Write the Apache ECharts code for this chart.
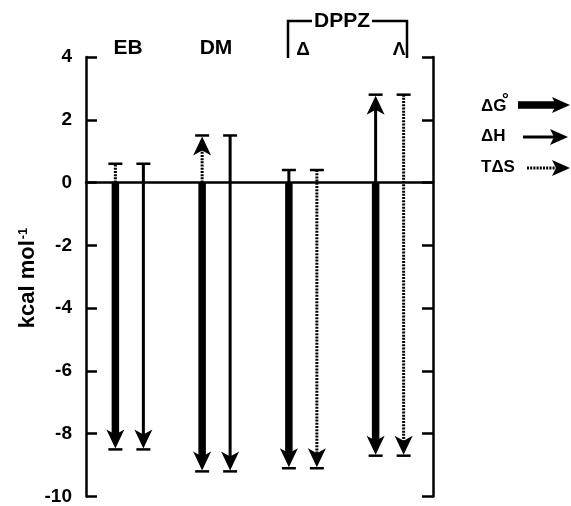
<!DOCTYPE html>
<html>
<head>
<meta charset="utf-8">
<script src="https://cdn.jsdelivr.net/npm/echarts@6/dist/echarts.min.js"></script>
<style>
html,body{margin:0;padding:0;background:#fff;}
#chart{width:571px;height:506px;}
</style>
</head>
<body>
<div id="chart"></div>
<script>
// ---- data (kcal/mol) ----
const categories = ['EB', 'DM', 'DPPZ Δ', 'DPPZ Λ'];
const dG  = [-8.5, -9.2, -9.1, -8.7];    // ΔG°
const dH  = [-9.1, -10.7, 0.4, 2.8];     // ΔH
const TdS = [-0.6, -1.5, 9.5, 11.5];     // TΔS  (ΔG = ΔH − TΔS)
const yTicks = [-10, -8, -6, -4, -2, 0, 2, 4];

const FONT = '"Liberation Sans", Arial, sans-serif';
const chart = echarts.init(document.getElementById('chart'), null, {renderer: 'canvas'});

const HEAD_W = 18, HEAD_H = 19, NOTCH = 5;
const THICK = 7.5, THIN = 3, DASH = [2, 1.2];
const CAP = 14;

function headPts(x, tip, dir, w, h, n) {
  return [[x, tip], [x - w / 2, tip - dir * h], [x, tip - dir * (h - n)], [x + w / 2, tip - dir * h]];
}
function lineStyleFor(kind) {
  if (kind === 'thick') return {stroke: '#000', lineWidth: THICK, fill: null};
  if (kind === 'thin') return {stroke: '#000', lineWidth: THIN, fill: null};
  return {stroke: '#000', lineWidth: THIN, lineDash: DASH, fill: null};
}
function seg(x, y1, y2, kind) {
  return {type: 'line', shape: {x1: x, y1: y1, x2: x, y2: y2}, style: lineStyleFor(kind)};
}
function cap(x, y) {
  return {type: 'line', shape: {x1: x - CAP / 2, y1: y, x2: x + CAP / 2, y2: y}, style: {stroke: '#000', lineWidth: 2.5}};
}
function arrowHead(x, tip, dir) {
  return {type: 'polygon', shape: {points: headPts(x, tip, dir, HEAD_W, HEAD_H, NOTCH)}, style: {fill: '#000'}};
}

function renderItem(params, api) {
  const i = api.value(0);
  const g = api.value(1), h = api.value(2), ts = api.value(3);
  const mTS = -ts;
  let first, firstKind, secondKind;
  if (mTS >= 0) { first = mTS; firstKind = 'dotted'; secondKind = 'thin'; }
  else { first = h; firstKind = 'thin'; secondKind = 'dotted'; }
  const c0 = api.coord([i, 0]);
  const xc = c0[0], y0 = c0[1];
  const yG = api.coord([i, g])[1];
  const y1 = api.coord([i, first])[1];
  const xa = xc - 14, xb = xc + 14;
  const kids = [];
  const upLen = y0 - y1;
  if (upLen > 28) {
    kids.push(seg(xa, y0, y1 + HEAD_H - NOTCH, firstKind));
    kids.push(arrowHead(xa, y1 + 1, -1));
  } else {
    kids.push(seg(xa, y0, y1, firstKind));
  }
  kids.push(cap(xa, y1));
  kids.push(seg(xa, y0, yG - HEAD_H + NOTCH + 1, 'thick'));
  kids.push(arrowHead(xa, yG - 1, 1));
  kids.push(cap(xa, yG));
  kids.push(seg(xb, y1, yG - HEAD_H + NOTCH + 1, secondKind));
  kids.push(cap(xb, y1));
  kids.push(arrowHead(xb, yG - 1, 1));
  kids.push(cap(xb, yG));
  return {type: 'group', children: kids};
}

const seriesData = categories.map((c, i) => [i, dG[i], dH[i], TdS[i]]);

const axisCommon = {
  type: 'value', min: yTicks[0], max: yTicks[yTicks.length - 1], interval: 2,
  axisLine: {show: true, lineStyle: {color: '#000', width: 2.5}},
  axisTick: {show: true, inside: true, length: 11, lineStyle: {color: '#000', width: 2.5}},
  splitLine: {show: false}
};

function legendArrow(x1, x2, y, kind) {
  const tip = x2, back = x2 - 18;
  const st = lineStyleFor(kind);
  return [
    {type: 'line', shape: {x1: x1, y1: y, x2: back + 4, y2: y}, style: st},
    {type: 'polygon', shape: {points: [[tip, y], [back, y - 8], [back + 4, y], [back, y + 8]]}, style: {fill: '#000'}}
  ];
}

const boldText = (txt, x, y, size, align) => ({
  type: 'text', x: x, y: y,
  style: {text: txt, fill: '#000', font: 'bold ' + size + 'px ' + FONT, textAlign: align || 'center', textVerticalAlign: 'middle'}
});

chart.setOption({
  animation: false,
  backgroundColor: '#fff',
  grid: {left: 86, right: 138, top: 57, bottom: 4, containLabel: false},
  xAxis: {
    type: 'category', data: categories, boundaryGap: true,
    axisLine: {show: true, onZero: true, lineStyle: {color: '#000', width: 2.5}},
    axisTick: {show: false}, axisLabel: {show: false}, splitLine: {show: false}
  },
  yAxis: [
    Object.assign({}, axisCommon, {
      position: 'left',
      axisLabel: {show: true, margin: 14, color: '#000', fontWeight: 'bold', fontSize: 19, fontFamily: FONT}
    }),
    Object.assign({}, axisCommon, {position: 'right', axisLabel: {show: false}})
  ],
  series: [{
    type: 'custom', renderItem: renderItem, data: seriesData,
    xAxisIndex: 0, yAxisIndex: 0, clip: false, z: 5
  }],
  graphic: [
    {
      type: 'text', x: 28, y: 278, rotation: Math.PI / 2,
      style: {
        text: '{a|kcal mol}{s|-1}', textAlign: 'center', textVerticalAlign: 'middle',
        rich: {
          a: {fontSize: 22, fontWeight: 'bold', fontFamily: FONT, fill: '#000', color: '#000'},
          s: {fontSize: 13, fontWeight: 'bold', fontFamily: FONT, fill: '#000', color: '#000', verticalAlign: 'top', padding: [0, 0, 10, 1]}
        }
      }
    },
    boldText('EB', 128, 48, 21),
    boldText('DM', 216, 48, 21),
    boldText('DPPZ', 342, 21, 21),
    {type: 'polyline', shape: {points: [[288, 58], [288, 21], [312, 21]]}, style: {stroke: '#000', lineWidth: 2.5, fill: null}},
    {type: 'polyline', shape: {points: [[372, 21], [407, 21], [407, 58]]}, style: {stroke: '#000', lineWidth: 2.5, fill: null}},
    boldText('Δ', 303, 50, 19),
    boldText('Λ', 399, 50, 19),
    boldText('ΔG', 481, 106, 17, 'left'),
    boldText('°', 502, 100, 17, 'left'),
    boldText('ΔH', 481, 136, 17, 'left'),
    boldText('TΔS', 481, 167, 17, 'left'),
    ...legendArrow(518, 570, 105, 'thick'),
    ...legendArrow(523, 568, 137, 'thin'),
    ...legendArrow(527, 570, 168, 'dotted')
  ]
});
</script>
</body>
</html>
